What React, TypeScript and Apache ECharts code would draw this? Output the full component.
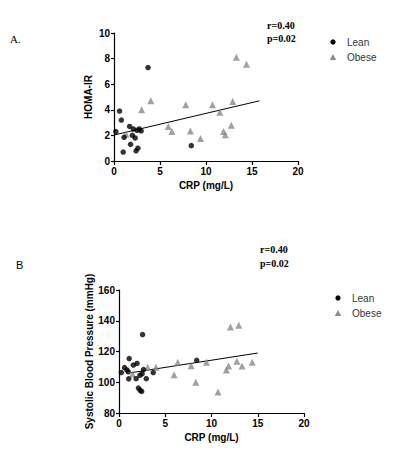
import React, { useEffect, useRef } from "react";
import * as echarts from "echarts";

// Panel A: HOMA-IR vs CRP
const leanA_x = [0.2, 0.6, 0.8, 1.0, 1.1, 1.7, 1.8, 2.0, 2.1, 2.3, 2.4, 2.6, 2.5, 2.75, 2.95, 3.7, 8.4];
const leanA_y = [2.3, 3.9, 3.2, 0.7, 1.85, 2.7, 1.3, 2.0, 2.5, 1.8, 0.8, 1.0, 2.4, 2.5, 2.35, 7.3, 1.2];
const obeseA_x = [1.3, 3.0, 4.0, 5.9, 6.3, 7.8, 8.3, 9.4, 10.7, 11.5, 11.9, 12.1, 12.75, 12.9, 13.3, 14.4];
const obeseA_y = [2.1, 4.0, 4.7, 2.7, 2.3, 4.4, 2.35, 1.75, 4.4, 3.8, 2.3, 2.05, 2.8, 4.65, 8.1, 7.55];
const trendA_x = [0, 15.8];
const trendA_y = [2.03, 4.7];

// Panel B: Systolic BP vs CRP
const leanB_x = [0.25, 0.6, 0.85, 1.0, 1.05, 1.1, 1.55, 1.85, 1.95, 2.1, 2.3, 2.45, 2.25, 2.5, 2.55, 2.65, 2.95, 3.7, 8.4];
const leanB_y = [106.3, 109.5, 108, 106.8, 102.2, 115.4, 111.2, 102.3, 112.2, 96.2, 94.7, 94, 104.5, 105.5, 131, 108.2, 102.3, 106.3, 114.3];
const obeseB_x = [1.45, 3.1, 4.0, 5.95, 6.35, 7.8, 8.3, 9.45, 10.7, 11.6, 11.85, 12.05, 12.75, 12.95, 13.3, 14.4];
const obeseB_y = [105.4, 109.7, 109.7, 104.8, 113, 110.8, 100, 113, 93.6, 107.9, 110.5, 135.9, 113.7, 137, 110.5, 113];
const trendB_x = [1.3, 15.0];
const trendB_y = [106.2, 119.0];

const xTicks = [0, 5, 10, 15, 20];
const yTicksA = [0, 2, 4, 6, 8, 10];
const yTicksB = [80, 100, 120, 140, 160];

const zip = (xs: number[], ys: number[]) => xs.map((x, i) => [x, ys[i]]);

const SANS = "Liberation Sans, Arial, sans-serif";
const SERIF = "Liberation Serif, Times New Roman, serif";
const GRAY = "#8a8a8a";

export default function App() {
  const ref = useRef<HTMLDivElement>(null);
  useEffect(() => {
    if (!ref.current) return;
    const chart = echarts.init(ref.current, null, { renderer: "svg" });
    const axisCommon = {
      axisLine: { show: true, lineStyle: { color: "#000", width: 1.2 } },
      axisTick: { show: true, inside: false, length: 3, lineStyle: { color: "#000", width: 1.2 } },
      splitLine: { show: false },
      nameLocation: "middle" as const,
      nameTextStyle: { fontFamily: SANS, fontSize: 10, fontWeight: "bold" as const, color: "#000" },
    };
    const xAxis = (gridIndex: number) => ({
      ...axisCommon,
      type: "value" as const,
      gridIndex,
      min: xTicks[0],
      max: xTicks[xTicks.length - 1],
      interval: 5,
      name: "CRP (mg/L)",
      nameGap: 19,
      axisTick: { show: true, inside: false, length: 4, lineStyle: { color: "#000", width: 1.2 } },
      axisLabel: { margin: 5, fontFamily: SANS, fontSize: 10, fontWeight: "bold" as const, color: "#000" },
    });
    const option: any = {
      animation: false,
      grid: [
        { left: 114, top: 33, width: 184, height: 128 },
        { left: 119, top: 290, width: 185, height: 123 },
      ],
      xAxis: [xAxis(0), xAxis(1)],
      yAxis: [
        {
          ...axisCommon,
          type: "value",
          gridIndex: 0,
          min: yTicksA[0],
          max: yTicksA[yTicksA.length - 1],
          interval: 2,
          name: "HOMA-IR",
          nameGap: 21,
          axisLabel: { margin: 4, fontFamily: SANS, fontSize: 10, fontWeight: "bold", color: "#000" },
        },
        {
          ...axisCommon,
          type: "value",
          gridIndex: 1,
          min: yTicksB[0],
          max: yTicksB[yTicksB.length - 1],
          interval: 20,
          name: "Systolic Blood Pressure (mmHg)",
          nameGap: 24,
          axisLabel: { margin: 4, fontFamily: SANS, fontSize: 10, fontWeight: "bold", color: "#000" },
        },
      ],
      series: [
        {
          type: "line", name: "trendA", xAxisIndex: 0, yAxisIndex: 0,
          data: zip(trendA_x, trendA_y), symbol: "none",
          lineStyle: { color: "#000", width: 1 }, z: 1,
        },
        {
          type: "scatter", name: "Lean", xAxisIndex: 0, yAxisIndex: 0,
          data: zip(leanA_x, leanA_y), symbol: "circle", symbolSize: 5.5,
          itemStyle: { color: "#000" }, z: 3,
        },
        {
          type: "scatter", name: "Obese", xAxisIndex: 0, yAxisIndex: 0,
          data: zip(obeseA_x, obeseA_y), symbol: "triangle", symbolSize: 7,
          itemStyle: { color: GRAY }, z: 2,
        },
        {
          type: "line", name: "trendB", xAxisIndex: 1, yAxisIndex: 1,
          data: zip(trendB_x, trendB_y), symbol: "none",
          lineStyle: { color: "#000", width: 1 }, z: 1,
        },
        {
          type: "scatter", name: "Lean", xAxisIndex: 1, yAxisIndex: 1,
          data: zip(leanB_x, leanB_y), symbol: "circle", symbolSize: 5.5,
          itemStyle: { color: "#000" }, z: 3,
        },
        {
          type: "scatter", name: "Obese", xAxisIndex: 1, yAxisIndex: 1,
          data: zip(obeseB_x, obeseB_y), symbol: "triangle", symbolSize: 7,
          itemStyle: { color: GRAY }, z: 2,
        },
      ],
      graphic: [
        { type: "text", left: 10, top: 33, style: { text: "A.", font: `11px ${SERIF}`, fill: "#000" } },
        { type: "text", left: 16, top: 259, style: { text: "B", font: `11px ${SANS}`, fill: "#000" } },
        { type: "text", left: 267, top: 20, style: { text: "r=0.40", font: `bold 10px ${SERIF}`, fill: "#000" } },
        { type: "text", left: 267, top: 33, style: { text: "p=0.02", font: `bold 10px ${SERIF}`, fill: "#000" } },
        { type: "text", left: 260, top: 244, style: { text: "r=0.40", font: `bold 10px ${SERIF}`, fill: "#000" } },
        { type: "text", left: 260, top: 258, style: { text: "p=0.02", font: `bold 10px ${SERIF}`, fill: "#000" } },
        // legend A
        { type: "circle", shape: { cx: 333, cy: 42, r: 2.6 }, style: { fill: "#000" } },
        { type: "text", x: 347, y: 42, style: { text: "Lean", font: `10px ${SANS}`, fill: "#333", textVerticalAlign: "middle" } },
        { type: "polygon", shape: { points: [[333, 54], [336.2, 60], [329.8, 60]] }, style: { fill: GRAY } },
        { type: "text", x: 347, y: 57, style: { text: "Obese", font: `10px ${SANS}`, fill: "#333", textVerticalAlign: "middle" } },
        // legend B
        { type: "circle", shape: { cx: 338, cy: 298, r: 2.6 }, style: { fill: "#000" } },
        { type: "text", x: 352, y: 298, style: { text: "Lean", font: `10px ${SANS}`, fill: "#333", textVerticalAlign: "middle" } },
        { type: "polygon", shape: { points: [[338, 310], [341.2, 316], [334.8, 316]] }, style: { fill: GRAY } },
        { type: "text", x: 352, y: 313, style: { text: "Obese", font: `10px ${SANS}`, fill: "#333", textVerticalAlign: "middle" } },
      ],
    };
    chart.setOption(option);
    return () => chart.dispose();
  }, []);
  return <div ref={ref} style={{ position: "absolute", left: 0, top: 0, width: 395, height: 456, background: "#fff" }} />;
}
